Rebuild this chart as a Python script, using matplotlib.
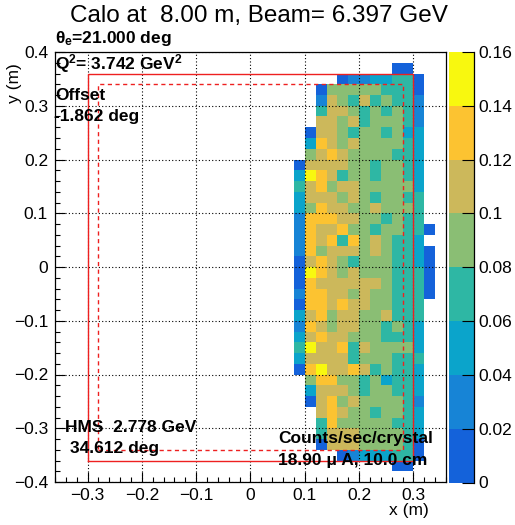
import numpy as np
import matplotlib
matplotlib.use('Agg')
import matplotlib.pyplot as plt
from matplotlib.colors import ListedColormap, BoundaryNorm
from matplotlib.ticker import MultipleLocator
from matplotlib.lines import Line2D

plt.rcParams['font.family'] = ['Liberation Sans', 'DejaVu Sans']
plt.rcParams['mathtext.fontset'] = 'custom'
plt.rcParams['mathtext.rm'] = 'Liberation Sans'
plt.rcParams['mathtext.bf'] = 'Liberation Sans:bold'
plt.rcParams['mathtext.it'] = 'Liberation Sans:italic'

# ---- data ----
x_lo, x_hi, nx = 0.08, 0.34, 13      # crystal columns (m)
y_hi, y_lo, ny = 0.38, -0.38, 38     # crystal rows (m), top to bottom

rates = [
    [0, 0, 0, 0, 0, 0, 0, 0, 0, .01, .01, 0, 0],
    [0, 0, 0, 0, .01, .03, .03, .05, .05, .07, .07, .01, 0],
    [0, 0, .01, .09, .09, .09, .09, .09, .07, .07, .07, .01, 0],
    [0, 0, .03, .11, .09, .07, .11, .07, .09, .07, .07, .03, 0],
    [0, 0, .07, .11, .11, .09, .07, .09, .07, .09, .07, .03, 0],
    [0, 0, .11, .11, .09, .11, .07, .09, .09, .09, .07, .03, 0],
    [0, .01, .11, .11, .09, .07, .09, .09, .07, .09, .05, .05, 0],
    [0, .05, .13, .11, .09, .11, .09, .09, .09, .09, .07, .05, 0],
    [0, .09, .11, .13, .11, .09, .09, .09, .09, .07, .07, .05, 0],
    [.01, .11, .11, .11, .11, .09, .09, .07, .09, .09, .07, .05, 0],
    [.05, .15, .13, .11, .07, .09, .09, .07, .09, .09, .07, .05, 0],
    [.07, .11, .13, .09, .11, .11, .09, .09, .09, .09, .09, .05, 0],
    [.05, .11, .11, .11, .09, .11, .09, .07, .09, .09, .07, .07, 0],
    [.05, .09, .13, .11, .11, .09, .09, .11, .09, .09, .09, .07, 0],
    [.03, .13, .13, .13, .11, .11, .09, .09, .07, .09, .07, .07, 0],
    [.03, .13, .11, .11, .13, .09, .09, .07, .09, .09, .07, .07, .01],
    [.03, .13, .11, .13, .07, .13, .09, .11, .09, .07, .07, .05, 0],
    [.03, .13, .09, .11, .11, .11, .09, .11, .09, .07, .07, .05, .01],
    [.01, .11, .13, .11, .09, .07, .09, .09, .09, .07, .07, .05, .01],
    [.01, .15, .13, .11, .09, .11, .09, .09, .09, .07, .07, .07, .01],
    [.01, .13, .11, .11, .11, .11, .11, .11, .09, .07, .07, .07, .01],
    [.03, .13, .13, .11, .11, .09, .11, .09, .09, .07, .07, .07, .01],
    [.01, .13, .13, .11, .13, .11, .11, .09, .09, .07, .07, .07, 0],
    [.05, .11, .13, .09, .11, .11, .09, .09, .11, .07, .07, .07, 0],
    [.03, .13, .11, .09, .11, .11, .09, .09, .07, .09, .07, .05, 0],
    [.05, .11, .13, .11, .11, .09, .09, .09, .07, .07, .07, .05, 0],
    [.07, .15, .11, .11, .13, .07, .11, .09, .09, .09, .09, .05, 0],
    [.05, .11, .11, .11, .11, .07, .09, .09, .09, .07, .07, .07, 0],
    [.01, .13, .15, .11, .11, .13, .11, .07, .09, .07, .07, .05, 0],
    [0, .09, .13, .13, .09, .09, .07, .09, .05, .07, .07, .05, 0],
    [0, .05, .11, .11, .11, .09, .07, .09, .09, .07, .07, .05, 0],
    [0, .01, .11, .13, .09, .11, .09, .09, .09, .09, .07, .03, 0],
    [0, 0, .11, .13, .11, .09, .09, .07, .09, .09, .07, .05, 0],
    [0, 0, .07, .13, .09, .09, .09, .09, .09, .07, .07, .05, 0],
    [0, 0, .07, .11, .11, .11, .09, .09, .09, .09, .07, .05, 0],
    [0, 0, .01, .11, .11, .11, .09, .09, .09, .09, .07, .01, 0],
    [0, 0, 0, 0, .01, .03, .05, .05, .05, .07, .07, .01, 0],
    [0, 0, 0, 0, 0, 0, 0, 0, 0, .01, .01, 0, 0],
]

levels = [0, 0.02, 0.04, 0.06, 0.08, 0.10, 0.12, 0.14, 0.16]
level_labels = ['0', '0.02', '0.04', '0.06', '0.08', '0.1', '0.12', '0.14', '0.16']
palette = ['#1462DA', '#1784D6', '#0BA4CB', '#2EB7A4', '#8ABE74',
           '#CCB85B', '#FCC331', '#F8F80F']

outer_box = (-0.30, 0.30, -0.36, 0.36)
inner_box = (-0.28, 0.28, -0.34, 0.34)

title = 'Calo at  8.00 m, Beam= 6.397 GeV'

# ---- figure ----
fig = plt.figure(figsize=(5.15, 5.25), dpi=100)
ax = fig.add_axes([55/515, 1-482/525, (446-55)/515, (482-52)/525])
cax = fig.add_axes([449/515, 1-482.5/525, 25/515, (482.5-52)/525])

cmap = ListedColormap(palette)
norm = BoundaryNorm(levels, cmap.N)

xe = np.linspace(x_lo, x_hi, nx + 1)
ye = np.linspace(y_hi, y_lo, ny + 1)
Z = np.ma.masked_equal(np.array(rates), 0)
mesh = ax.pcolormesh(xe, ye, Z, cmap=cmap, norm=norm, shading='flat',
                     antialiased=False, zorder=1)

ax.set_xlim(-0.36, 0.36)
ax.set_ylim(-0.4, 0.4)

# red boxes
def box(b, **kw):
    x0, x1, y0, y1 = b
    ax.plot([x0, x1, x1, x0, x0], [y0, y0, y1, y1, y0], **kw)

box(outer_box, color='#EE2020', lw=1.0, zorder=3)
box(inner_box, color='#EE2020', lw=1.0, ls=(0, (3, 2.5)), zorder=3)

# grid & ticks
ax.xaxis.set_major_locator(MultipleLocator(0.1))
ax.xaxis.set_minor_locator(MultipleLocator(0.02))
ax.yaxis.set_major_locator(MultipleLocator(0.1))
ax.yaxis.set_minor_locator(MultipleLocator(0.02))
ax.grid(True, which='major', color='black', ls=(0, (1, 2)), lw=0.8, zorder=4)
ax.set_axisbelow(False)
ax.tick_params(which='major', direction='in', length=7.5, width=0.8,
               labelsize=12.5, top=False, right=False)
ax.tick_params(axis='x', which='major', pad=4)
ax.tick_params(axis='y', which='major', pad=5)
ax.tick_params(which='minor', direction='in', length=3.8, width=0.8,
               top=False, right=False)
for s in ax.spines.values():
    s.set_linewidth(0.9)
    s.set_zorder(5)

def fmt(v):
    if abs(v) < 1e-9:
        return '0'
    return ('%.1f' % v).replace('-', '\u2212')
xt = np.round(np.arange(-0.3, 0.31, 0.1), 1)
yt = np.round(np.arange(-0.4, 0.41, 0.1), 1)
ax.set_xticks(xt)
ax.set_xticklabels([fmt(v) for v in xt])
ax.set_yticks(yt)
ax.set_yticklabels([fmt(v) for v in yt])

# colorbar
cb = fig.colorbar(mesh, cax=cax, ticks=levels)
cb.set_ticklabels(level_labels)
cb.outline.set_visible(False)
cax.tick_params(direction='in', length=9, width=0.8, labelsize=12.5, pad=3,
                right=True, left=False)
cax.add_line(Line2D([1, 1], [0, 1], transform=cax.transAxes, color='black',
                    lw=0.9, clip_on=False))

# texts
fig.text(259/515, 1-16/525, title, ha='center', va='center', fontsize=17.5)
fig.text(15/515, 1-83/525, 'y (m)', rotation=90, ha='center', va='center',
         fontsize=12.5)
fig.text(409/515, 1-511/525, 'x (m)', ha='center', va='center', fontsize=12.5)

bold = dict(fontsize=12.5, fontweight='bold', ha='left', va='center', zorder=6)
fig.text(55/515, 1-38/525, '\u03b8$_{\\mathbf{e}}$=21.000 deg', **bold)
fig.text(55/515, 1-64/525, r'Q$^{\mathbf{2}}$= 3.742 GeV$^{\mathbf{2}}$', **bold)
fig.text(55/515, 1-95/525, 'Offset', **bold)
fig.text(54/515, 1-117/525, '-1.862 deg', **bold)
fig.text(65/515, 1-428/525, 'HMS  2.778 GeV', **bold)
fig.text(70/515, 1-449/525, '34.612 deg', **bold)
fig.text(278/515, 1-439/525, 'Counts/sec/crystal', **bold)
fig.text(278/515, 1-461/525, '18.90 \u03bc A, 10.0 cm', **bold)

fig.savefig('out.png', dpi=100)
